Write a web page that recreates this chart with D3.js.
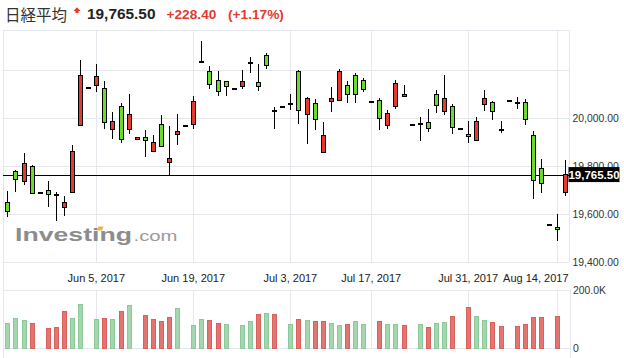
<!DOCTYPE html>
<html><head><meta charset="utf-8">
<script src="https://cdn.jsdelivr.net/npm/d3@7"></script>
<style>body{margin:0;background:#fff;}svg{display:block;}</style>
</head><body>
<svg id="chart" width="624" height="358"></svg>
<script>
// ---- data ----
const opens  = [19650,19779,19736,19800,19687,19700,19682,19629,19690,19969,
                20126,20137,20125,19954,20050,19954,19912,19921,19862,19975,
                19817,19933,19969,19975,20236,20196,20158,20154,20121,20133,
                20232,20150,20262,20032,20049,20058,20196,20017,20062,19858,
                20071,20075,20137,20179,20158,20067,20075,19971,20050,20092,
                19971,19976,19983,20100,20029,20050,19954,19933,19908,20058,
                20067,19953,20071,20062,20067,19929,19792,19557,19546,19692];
const highs  = [19696,19785,19854,19805,19687,19739,19692,19676,19887,20242,
                20126,20226,20155,20026,20064,20101,19921,19951,19929,20014,
                19967,20018,19969,20092,20322,20218,20196,20154,20121,20200,
                20254,20225,20271,20046,20053,20100,20200,20087,20079,19983,
                20129,20204,20154,20187,20167,20067,20083,20033,20158,20137,
                19971,20004,20037,20117,20180,20060,19954,19989,20004,20117,
                20071,19987,20071,20087,20079,19946,19829,19557,19603,19826];
const lows   = [19590,19694,19722,19687,19687,19632,19574,19594,19690,19969,
                20126,20108,19954,19912,19899,19933,19912,19840,19858,19883,
                19762,19890,19969,19954,20236,20122,20093,20094,20121,20124,
                20190,20115,20204,19954,20044,20036,19978,19894,19953,19858,
                20028,20075,20065,20065,20108,20067,19950,19954,20037,20087,
                19971,19907,19944,20021,20012,19933,19954,19896,19908,20029,
                19992,19937,20071,20040,19974,19665,19690,19557,19490,19678];
const closes = [19611,19746,19812,19687,19687,19683,19682,19650,19862,20179,
                20126,20175,19983,19987,19912,20017,19921,19908,19900,19883,
                19833,19946,19969,20071,20236,20142,20112,20133,20121,20154,
                20232,20133,20221,20032,20049,20058,20033,20083,19996,19929,
                20083,20196,20100,20100,20121,20067,20000,20021,20146,20100,
                19971,19976,19957,20054,20083,19962,19954,19925,19987,20083,
                20029,19953,20071,20062,19996,19742,19729,19557,19537,19765.5];
// volume in thousands (null = no bar)
const volumes = [86,103,97,86,null,69,73,128,103,152,
                 null,100,103,100,128,148,null,114,100,93,
                 107,138,null,79,100,97,86,83,null,79,
                 93,117,121,117,null,83,100,97,93,93,
                 86,79,83,93,83,null,93,83,83,79,
                 null,83,74,86,90,110,null,141,110,97,
                 90,76,null,76,83,107,107,null,110,null];
const volumeDir = ["g","g","g","r","","r","r","r","g","g",
                   "","g","r","g","r","g","","r","r","r",
                   "r","g","","g","g","r","r","g","","g",
                   "g","r","g","r","","g","r","g","r","r",
                   "g","g","r","g","g","","r","g","g","r",
                   "","g","r","g","g","r","","r","g","g",
                   "r","r","","r","r","r","r","","r",""];
const dateTickIndex = [11,23,35,45,57,68];
const dateTickLabels = ["Jun 5, 2017","Jun 19, 2017","Jul 3, 2017","Jul 17, 2017","Jul 31, 2017","Aug 14, 2017"];
const priceGrid = [20200,20000,19800,19600,19400];
const priceLabels = [20000,19800,19600,19400];
const volumeTicks = [0,200];
const lastPrice = 19765.50;
const headerName = "日経平均";
const headerChange = "+228.40";
const headerPct = "(+1.17%)";

// ---- drawing ----
const svg = d3.select("#chart");
const FONT = "'Liberation Sans', Arial, sans-serif";
const GRID = "#e4e7ec";
const L = 3.3, R = 569.3, PT = 30.3, PB = 262.3, VT = 290, VB = 348.3;

const x = d3.scaleBand().domain(d3.range(opens.length)).range([L, R]);
const cx = i => x(i) + x.bandwidth()/2;
const y = d3.scaleLinear().domain([19400, 20000]).range([PB, 118.3]);
const yv = d3.scaleLinear().domain([0, 200]).range([VB, VT]);

// header
svg.append("text").attr("x",5).attr("y",20.5).attr("font-family","'Noto Sans CJK JP', sans-serif")
  .attr("font-size",15.5).attr("fill","#333").text(headerName);
svg.append("path").attr("d","M77,7.3 L80.6,11 L78.6,11 L78.6,13 L75.4,13 L75.4,11 L73.4,11 Z").attr("fill","#e53a2f");
svg.append("text").attr("x",87).attr("y",18.5).attr("font-family",FONT).attr("font-weight","bold")
  .attr("font-size",15.4).attr("fill","#222").text(d3.format(",.2f")(lastPrice));
svg.append("text").attr("x",166.5).attr("y",18.5).attr("font-family",FONT).attr("font-weight","bold")
  .attr("font-size",13.7).attr("fill","#e53a2f").text(headerChange);
svg.append("text").attr("x",228).attr("y",18.5).attr("font-family",FONT).attr("font-weight","bold")
  .attr("font-size",13.7).attr("fill","#e53a2f").text(headerPct);

// grid - price pane
const g = svg.append("g").attr("shape-rendering","crispEdges");
priceGrid.forEach(v => g.append("line").attr("x1",L).attr("x2",R).attr("y1",Math.round(y(v))+0.5).attr("y2",Math.round(y(v))+0.5).attr("stroke",GRID));
g.append("line").attr("x1",L).attr("x2",R).attr("y1",30.5).attr("y2",30.5).attr("stroke",GRID);
dateTickIndex.forEach(i => {
  const xx = Math.round(cx(i))+0.5;
  g.append("line").attr("x1",xx).attr("x2",xx).attr("y1",PT).attr("y2",PB).attr("stroke",GRID);
  g.append("line").attr("x1",xx).attr("x2",xx).attr("y1",VT).attr("y2",VB).attr("stroke",GRID);
});
// volume pane lines
g.append("line").attr("x1",L).attr("x2",R+1).attr("y1",VT+0.5).attr("y2",VT+0.5).attr("stroke",GRID);
g.append("line").attr("x1",L).attr("x2",R+1).attr("y1",VB+0.5).attr("y2",VB+0.5).attr("stroke",GRID);
// borders
g.append("line").attr("x1",3.5).attr("x2",3.5).attr("y1",PT).attr("y2",358).attr("stroke",GRID);
g.append("line").attr("x1",569.5).attr("x2",569.5).attr("y1",PT).attr("y2",PB).attr("stroke",GRID);
g.append("line").attr("x1",570.5).attr("x2",570.5).attr("y1",VT).attr("y2",358).attr("stroke",GRID);

// watermark
const wm = svg.append("g");
wm.append("text").attr("x",15).attr("y",241).attr("font-family",FONT).attr("font-weight","bold")
  .attr("font-size",19).attr("fill","#8d8d8d").attr("textLength",117).attr("lengthAdjust","spacingAndGlyphs").text("Investing");
wm.append("text").attr("x",133.5).attr("y",241).attr("font-family",FONT)
  .attr("font-size",15.5).attr("fill","#9a9a9a").attr("textLength",44).attr("lengthAdjust","spacingAndGlyphs").text(".com");
wm.append("path").attr("d","M98.5,226.5 L103.5,226.5 L102,230.5 L97,230.5 Z").attr("fill","#f2b33d");

// x-axis labels
dateTickIndex.forEach((i,k) => {
  const t = svg.append("text").attr("y",282).attr("font-family",FONT).attr("font-size",11)
    .attr("fill","#222").attr("text-anchor","middle").attr("x",cx(i)).text(dateTickLabels[k]);
  const bb = t.node().getBBox();
  if (bb.x + bb.width > 568.5) t.attr("x", cx(i) - (bb.x + bb.width - 568.5));
});

// price axis labels
priceLabels.forEach(v => svg.append("text").attr("x",572.5).attr("y",y(v)+4).attr("font-family",FONT)
  .attr("font-size",10.4).attr("fill","#333").text(d3.format(",.2f")(v)));
// volume labels
volumeTicks.forEach(v => svg.append("text").attr("x",573).attr("y",yv(v)+4).attr("font-family",FONT)
  .attr("font-size",10.4).attr("fill","#333").text(v === 0 ? "0" : d3.format(".1f")(v)+"K"));

// volume bars
const vw = 4;
svg.append("g").selectAll("rect").data(volumes.map((v,i)=>({v,i,d:volumeDir[i]})).filter(d=>d.v!=null))
  .join("rect")
  .attr("x", d => Math.round(cx(d.i) - vw/2) + 0.5)
  .attr("y", d => Math.round(yv(d.v)) + 0.5)
  .attr("width", vw)
  .attr("height", d => Math.round(VB) - Math.round(yv(d.v)))
  .attr("fill", d => d.d === "g" ? "#a3d7ae" : "#e47470")
  .attr("stroke", d => d.d === "g" ? "#8cc89a" : "#d9605c")
  .attr("stroke-width", 1).attr("shape-rendering","crispEdges");

// last price line
svg.append("line").attr("x1",L).attr("x2",R).attr("y1",Math.round(y(lastPrice))+0.5).attr("y2",Math.round(y(lastPrice))+0.5)
  .attr("stroke","#000").attr("stroke-width",1).attr("shape-rendering","crispEdges");

// candles
const cg = svg.append("g").attr("shape-rendering","crispEdges");
const bw = 4;
opens.forEach((o,i) => {
  const h = highs[i], l = lows[i], c = closes[i];
  const xc = Math.round(cx(i)) + 0.5;
  if (h !== l) {
    cg.append("line").attr("x1",xc).attr("x2",xc).attr("y1",y(h)).attr("y2",y(l)).attr("stroke","#000").attr("stroke-width",1.2);
  }
  if (o === c) {
    cg.append("rect").attr("x",xc-2.5).attr("y",y(o)-1).attr("width",5).attr("height",2).attr("fill","#000");
  } else {
    const top = y(Math.max(o,c)), bot = y(Math.min(o,c));
    cg.append("rect").attr("x",xc-bw/2).attr("y",top).attr("width",bw).attr("height",Math.max(1,bot-top))
      .attr("fill", c > o ? "#e8392f" : "#6bdc2a").attr("stroke","#000").attr("stroke-width",1);
  }
});

// price tag
const ty = y(lastPrice);
svg.append("rect").attr("x",568.5).attr("y",ty-7.5).attr("width",51).attr("height",15).attr("fill","#000");
svg.append("text").attr("x",594).attr("y",ty+4.2).attr("text-anchor","middle").attr("font-family",FONT)
  .attr("font-weight","bold").attr("font-size",11.5).attr("fill","#fff").text(d3.format(",.2f")(lastPrice));
</script>
</body></html>
